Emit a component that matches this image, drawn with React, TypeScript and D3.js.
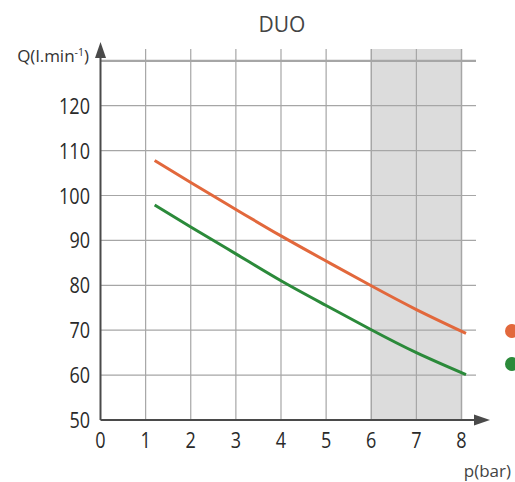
import React from "react";
import * as d3 from "d3";

const title = "DUO";
const pressure = [1.2, 2, 3, 4, 5, 6, 7, 8.1];
const flowOrange = [107.8, 102.9, 96.9, 91.0, 85.4, 79.9, 74.6, 69.3];
const flowGreen = [97.9, 93.0, 87.0, 81.0, 75.5, 70.1, 65.0, 60.1];
const xTicks = [0, 1, 2, 3, 4, 5, 6, 7, 8];
const yTicks = [50, 60, 70, 80, 90, 100, 110, 120];
const yGridTop = 130;
const shadedRange = [6, 8];
const seriesColors = ["#e2683c", "#2b8a3a"];

export default function App() {
  const W = 515, H = 482;
  const x = d3.scaleLinear().domain([0, 8]).range([100.5, 461.5]);
  const y = d3.scaleLinear().domain([50, 130]).range([420, 60.8]);
  const gridTopY = 49;
  const gridRightX = 476;
  const line = d3
    .line<[number, number]>()
    .x((d) => x(d[0]))
    .y((d) => y(d[1]))
    .curve(d3.curveNatural);
  const series = [flowOrange, flowGreen].map((vals) =>
    pressure.map((p, i) => [p, vals[i]] as [number, number])
  );
  const numFont = "'Open Sans', 'Noto Sans', sans-serif";
  const txtFont = "'Open Sans', 'Noto Sans', sans-serif";
  const axisColor = "#4a4a4a";
  const gridColor = "#a6a6a6";
  const sx = 0.82;
  return (
    <svg
      width={W}
      height={H}
      style={{ position: "absolute", left: 0, top: 0, background: "#fff" }}
    >
      <rect
        x={x(shadedRange[0])}
        y={gridTopY}
        width={x(shadedRange[1]) - x(shadedRange[0])}
        height={y(50) - gridTopY}
        fill="#dcdcdc"
      />
      {xTicks
        .filter((t) => t > 0)
        .map((t) => (
          <line
            key={"v" + t}
            x1={x(t)}
            x2={x(t)}
            y1={gridTopY}
            y2={y(50)}
            stroke={gridColor}
            strokeWidth={t === 6 || t === 8 ? 1.5 : 1.2}
          />
        ))}
      {[...yTicks.filter((t) => t > 50), yGridTop].map((t) => (
        <line
          key={"h" + t}
          x1={x(0)}
          x2={gridRightX}
          y1={y(t)}
          y2={y(t)}
          stroke={gridColor}
          strokeWidth={t === yGridTop ? 2.2 : 1.2}
        />
      ))}
      {series.map((s, i) => (
        <path
          key={"s" + i}
          d={line(s) || ""}
          fill="none"
          stroke={seriesColors[i]}
          strokeWidth={3}
        />
      ))}
      <line x1={x(0)} x2={476} y1={y(50)} y2={y(50)} stroke={axisColor} strokeWidth={2} />
      <path d={`M${490},${y(50)} L${474},${y(50) - 5.5} L${474},${y(50) + 5.5} Z`} fill={axisColor} />
      <line x1={x(0)} x2={x(0)} y1={y(50)} y2={58} stroke={axisColor} strokeWidth={2} />
      <path d={`M${x(0)},${42} L${x(0) - 5.5},${58} L${x(0) + 5.5},${58} Z`} fill={axisColor} />
      {yTicks.map((t) => (
        <text
          key={"yl" + t}
          transform={`translate(90,${y(t) + 8}) scale(${sx},1)`}
          textAnchor="end"
          fontFamily={numFont}
          fontSize={22}
          fill="#2a2a2a"
        >
          {t}
        </text>
      ))}
      {xTicks.map((t) => (
        <text
          key={"xl" + t}
          transform={`translate(${x(t)},448) scale(${sx},1)`}
          textAnchor="middle"
          fontFamily={numFont}
          fontSize={22}
          fill="#2a2a2a"
        >
          {t}
        </text>
      ))}
      <text x={89} y={62} textAnchor="end" fontFamily={txtFont} fontSize={17} fill="#333">
        Q(l.min
        <tspan fontSize={10.5} dy={-6.5}>-1</tspan>
        <tspan dy={6.5}>)</tspan>
      </text>
      <text x={511} y={477} textAnchor="end" fontFamily={txtFont} fontSize={17} fill="#444">
        p(bar)
      </text>
      <text x={282} y={32} textAnchor="middle" fontFamily={txtFont} fontSize={21} fill="#444">
        {title}
      </text>
      {seriesColors.map((c, i) => (
        <circle key={"d" + i} cx={512} cy={331 + i * 33} r={7} fill={c} />
      ))}
    </svg>
  );
}
